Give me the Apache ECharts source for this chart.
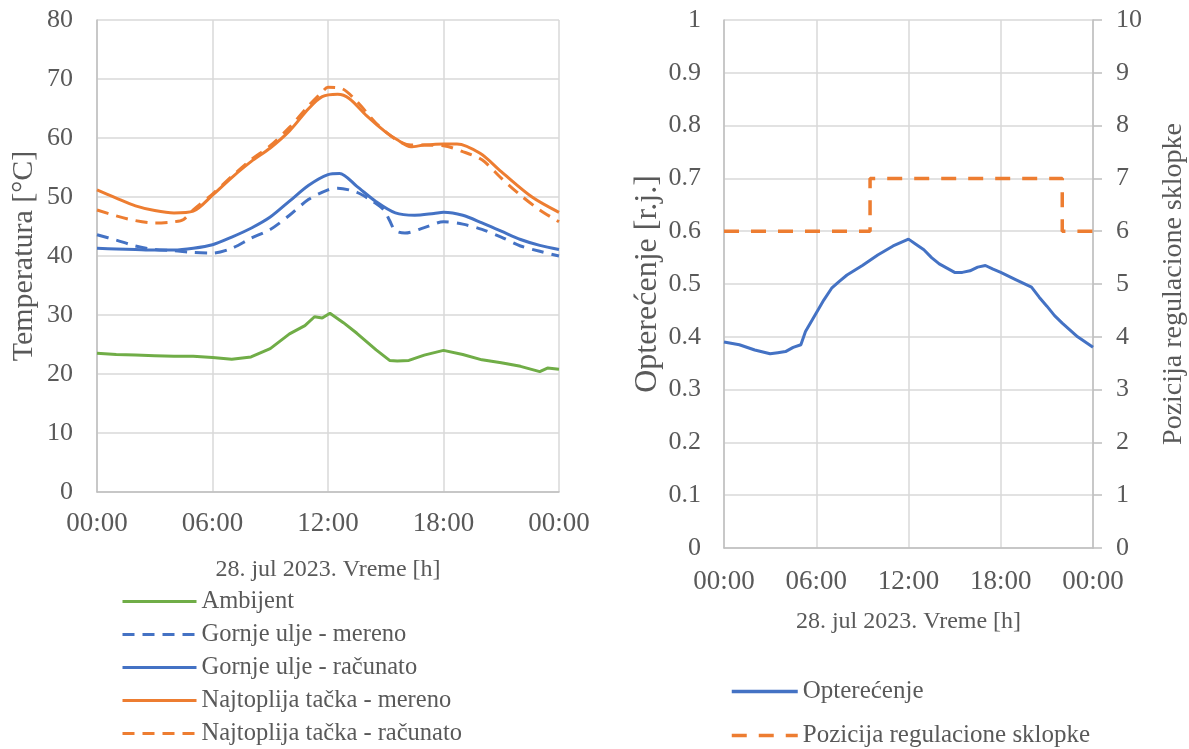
<!DOCTYPE html>
<html><head><meta charset="utf-8">
<script src="https://cdn.jsdelivr.net/npm/echarts@6/dist/echarts.min.js"></script>
<style>html,body{margin:0;padding:0;background:#fff}#c{width:1189px;height:749px}</style>
</head><body><div id="c"></div>
<script>
// ---- Left chart data (time in hours, temperatures in °C) ----
const ambT = [0,1,2,3,4,5,6,7,8,9,10,10.8,11.3,11.7,12.1,12.8,13.5,14.5,15.2,15.6,16.2,17,18,19,20,21,22,23,23.4,24];
const ambV = [23.5,23.3,23.2,23.1,23,23,22.8,22.5,22.9,24.3,26.8,28.2,29.7,29.5,30.3,28.7,26.9,24.1,22.3,22.2,22.3,23.2,24,23.3,22.4,21.9,21.3,20.4,21,20.8];

const oilMT = [0,1,2,3,4,5,6,7,8,9,10,11,12,12.5,13.5,14.3,14.9,15.2,15.5,16,17,18,19,20,21,22,23,24];
const oilMV = [43.6,42.7,41.7,41.1,40.9,40.6,40.5,41.3,43,44.5,46.9,49.6,51.2,51.5,50.8,49.3,47.8,46,44.3,43.9,44.8,45.8,45.4,44.5,43.2,41.7,40.8,40];

const oilCT = [0,1,2,3,4,5,6,7,8,9,10,11,12,12.6,13.5,14.5,15.5,16.5,17.5,18,19,20,21,22,23,24];
const oilCV = [41.3,41.2,41.1,41,41,41.3,41.9,43.2,44.7,46.6,49.3,52,53.8,54,51.8,49.2,47.3,46.9,47.2,47.4,46.9,45.6,44.2,42.8,41.8,41.1];

const hotMT = [0,1,2,3,4,5,6,7,8,9,10,11,11.7,12.5,13.1,14,15,15.6,16.3,17,18,18.7,19.9,21,22.6,24];
const hotMV = [51.2,49.8,48.5,47.7,47.3,47.6,50.3,53.3,56,58.3,61.2,65,67,67.4,66.7,63.8,61,59.7,58.5,58.8,59,59,57.4,54.3,50,47.4];

const hotCT = [0,1,2,3,4,4.5,5,6,7,8,9,10,11,11.7,12,12.7,13.5,14.5,15.5,16.3,17,18,19,20,21,22,23,24];
const hotCV = [47.8,46.8,46,45.6,45.8,46.2,47.8,50.5,53.5,56.3,58.7,61.8,65.5,67.8,68.6,68.4,66.2,62.5,59.8,58.8,58.8,58.7,57.7,56.3,53.2,50.3,47.8,45.8];

// ---- Right chart data ----
const loadT = [0,1,2,3,3.5,4,4.5,5,5.3,6,6.5,7,7.5,8,9,10,11,12,12.5,13,13.5,14,14.5,15,15.5,16,16.5,17,17.5,18,19,20,20.5,21,21.5,22,23,24];
const loadV = [0.39,0.385,0.375,0.368,0.37,0.372,0.38,0.385,0.41,0.445,0.47,0.492,0.505,0.517,0.535,0.555,0.572,0.585,0.575,0.565,0.55,0.538,0.53,0.522,0.522,0.525,0.532,0.535,0.528,0.522,0.508,0.494,0.475,0.458,0.44,0.426,0.40,0.38];

const tapT = [0,9.5,9.5,22,22,24];
const tapV = [6,6,7,7,6,6];

const timeTicks = ['00:00','06:00','12:00','18:00','00:00'];
const leftLegend = ['Ambijent','Gornje ulje - mereno','Gornje ulje - računato','Najtoplija tačka - mereno','Najtoplija tačka - računato'];
const rightLegend = ['Opterećenje','Pozicija regulacione sklopke'];

const zip = (t, v) => t.map((x, i) => [x, v[i]]);
const FONT = 'Liberation Serif';
const TXT = '#595959';
const AXL = '#bfbfbf';
const GRD = '#d9d9d9';
const ORANGE = '#ED7D31', BLUE = '#4472C4', GREEN = '#70AD47';

function xAxisCfg(gridIndex, nameGap, margin) {
  return {
    type: 'value', gridIndex, min: 0, max: 24, interval: 6,
    name: '28. jul 2023. Vreme [h]', nameLocation: 'middle', nameGap,
    nameTextStyle: { fontFamily: FONT, fontSize: 24, color: TXT },
    axisLine: { show: true, lineStyle: { color: AXL, width: 1.5 } },
    axisTick: { show: false },
    axisLabel: { fontFamily: FONT, fontSize: 27, color: TXT, margin,
      formatter: v => timeTicks[Math.round(v / 6)] },
    splitLine: { show: true, lineStyle: { color: GRD, width: 1.5 } }
  };
}

const lbl = { fontFamily: FONT, fontSize: 26, color: TXT };

const option = {
  animation: false,
  backgroundColor: '#fff',
  grid: [
    { left: 97, right: 630, top: 20, bottom: 257 },
    { left: 724, right: 96, top: 20, bottom: 201 }
  ],
  xAxis: [ xAxisCfg(0, 66, 18), xAxisCfg(1, 62, 20) ],
  yAxis: [
    { type: 'value', gridIndex: 0, min: 0, max: 80, interval: 10,
      name: 'Temperatura [°C]', nameLocation: 'middle', nameGap: 58,
      nameTextStyle: { fontFamily: FONT, fontSize: 30, color: TXT },
      axisLine: { show: true, lineStyle: { color: AXL, width: 1.5 } },
      axisTick: { show: false },
      axisLabel: Object.assign({ margin: 24 }, lbl),
      splitLine: { lineStyle: { color: GRD, width: 1.5 } } },
    { type: 'value', gridIndex: 1, min: 0, max: 1, interval: 0.1,
      name: 'Opterećenje [r.j.]', nameLocation: 'middle', nameGap: 60,
      nameTextStyle: { fontFamily: FONT, fontSize: 32, color: TXT },
      axisLine: { show: true, lineStyle: { color: AXL, width: 1.5 } },
      axisTick: { show: false },
      axisLabel: Object.assign({ margin: 23, formatter: v => String(+v.toFixed(1)) }, lbl),
      splitLine: { lineStyle: { color: GRD, width: 1.5 } } },
    { type: 'value', gridIndex: 1, position: 'right', min: 0, max: 10, interval: 1,
      name: 'Pozicija regulacione sklopke', nameLocation: 'middle', nameGap: 67,
      nameTextStyle: { fontFamily: FONT, fontSize: 28, color: TXT }, nameRotate: 90,
      axisLine: { show: true, lineStyle: { color: AXL, width: 1.5 } },
      axisTick: { show: true, length: 9, lineStyle: { color: AXL, width: 1.5 } },
      axisLabel: Object.assign({ margin: 23 }, lbl),
      splitLine: { show: false } }
  ],
  legend: [
    { data: leftLegend, orient: 'vertical', left: 121, top: 589, padding: 0,
      itemWidth: 74, itemHeight: 14, itemGap: 8, itemStyle: { opacity: 0 },
      lineStyle: { width: 3 },
      textStyle: { fontFamily: FONT, fontSize: 24.5, color: TXT } },
    { data: rightLegend, orient: 'vertical', left: 730, top: 679, padding: 0, height: 90,
      itemWidth: 66, itemHeight: 14, itemGap: 19, itemStyle: { opacity: 0 },
      lineStyle: { width: 3.5 },
      textStyle: { fontFamily: FONT, fontSize: 25, color: TXT } }
  ],
  series: [
    { name: 'Ambijent', type: 'line', xAxisIndex: 0, yAxisIndex: 0, symbol: 'none',
      data: zip(ambT, ambV), lineStyle: { color: GREEN, width: 3 }, itemStyle: { color: GREEN } },
    { name: 'Gornje ulje - mereno', type: 'line', xAxisIndex: 0, yAxisIndex: 0, symbol: 'none', smooth: 0.3,
      data: zip(oilMT, oilMV), lineStyle: { color: BLUE, width: 3, type: [12, 8] }, itemStyle: { color: BLUE } },
    { name: 'Gornje ulje - računato', type: 'line', xAxisIndex: 0, yAxisIndex: 0, symbol: 'none', smooth: 0.3,
      data: zip(oilCT, oilCV), lineStyle: { color: BLUE, width: 3 }, itemStyle: { color: BLUE } },
    { name: 'Najtoplija tačka - mereno', type: 'line', xAxisIndex: 0, yAxisIndex: 0, symbol: 'none', smooth: 0.3,
      data: zip(hotMT, hotMV), lineStyle: { color: ORANGE, width: 3 }, itemStyle: { color: ORANGE } },
    { name: 'Najtoplija tačka - računato', type: 'line', xAxisIndex: 0, yAxisIndex: 0, symbol: 'none', smooth: 0.3,
      data: zip(hotCT, hotCV), lineStyle: { color: ORANGE, width: 3, type: [12, 8] }, itemStyle: { color: ORANGE } },
    { name: 'Opterećenje', type: 'line', xAxisIndex: 1, yAxisIndex: 1, symbol: 'none',
      data: zip(loadT, loadV), lineStyle: { color: BLUE, width: 3 }, itemStyle: { color: BLUE } },
    { name: 'Pozicija regulacione sklopke', type: 'line', xAxisIndex: 1, yAxisIndex: 2, symbol: 'none',
      data: zip(tapT, tapV), lineStyle: { color: ORANGE, width: 3.5, type: [15, 12] }, itemStyle: { color: ORANGE } }
  ]
};
const chart = echarts.init(document.getElementById('c'), null, { renderer: 'canvas' });
chart.setOption(option);
</script>
</body></html>
